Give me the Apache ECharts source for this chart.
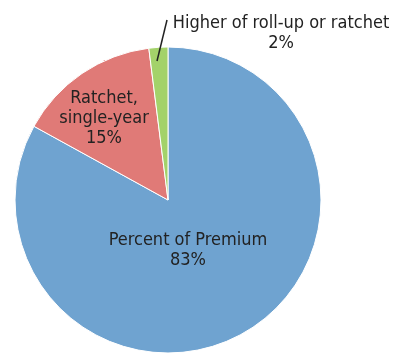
<!DOCTYPE html>
<html><head><meta charset="utf-8">
<script src="https://cdn.jsdelivr.net/npm/echarts@6/dist/echarts.min.js"></script>
<style>html,body{margin:0;padding:0;background:#fff}#c{width:397px;height:354px}</style>
</head><body><div id="c"></div>
<script>
const categories = ["Percent of Premium", "Ratchet,\nsingle-year", "Higher of roll-up or ratchet"];
const values = [83, 15, 2];
const colors = ["#6fa3d0", "#e07a77", "#a3d26a"];

const chart = echarts.init(document.getElementById('c'));
const fontFam = '"DejaVu Sans Condensed","Liberation Sans Narrow","Roboto Condensed","Noto Sans",sans-serif';
const labelPos = [[188, 250], [104, 118], [281, 33]];
chart.setOption({
  animation: false,
  graphic: [{
    type: 'line', z: 100,
    shape: { x1: 157, y1: 61, x2: 167, y2: 20 },
    style: { stroke: '#222', lineWidth: 1.5 }
  }],
  series: [{
    type: 'pie',
    center: [168, 200],
    radius: [0, 153],
    startAngle: 90,
    clockwise: true,
    itemStyle: { borderColor: '#fff', borderWidth: 1 },
    label: {
      show: true,
      position: 'inside',
      formatter: p => p.name + '\n' + p.value + '%',
      color: '#222',
      fontFamily: fontFam,
      fontSize: 18,
      lineHeight: 20,
      align: 'center',
      overflow: 'none'
    },
    labelLayout: function (p) {
      const pos = labelPos[p.dataIndex];
      return { x: pos[0], y: pos[1], align: 'center', verticalAlign: 'middle' };
    },
    data: categories.map((c, i) => {
      const d = { name: c, value: values[i], itemStyle: { color: colors[i] } };
      if (i === 2) {
        d.label = { position: 'outside', overflow: 'none', width: 240 };
        d.labelLine = { show: false };
      }
      return d;
    })
  }]
});
</script></body></html>
